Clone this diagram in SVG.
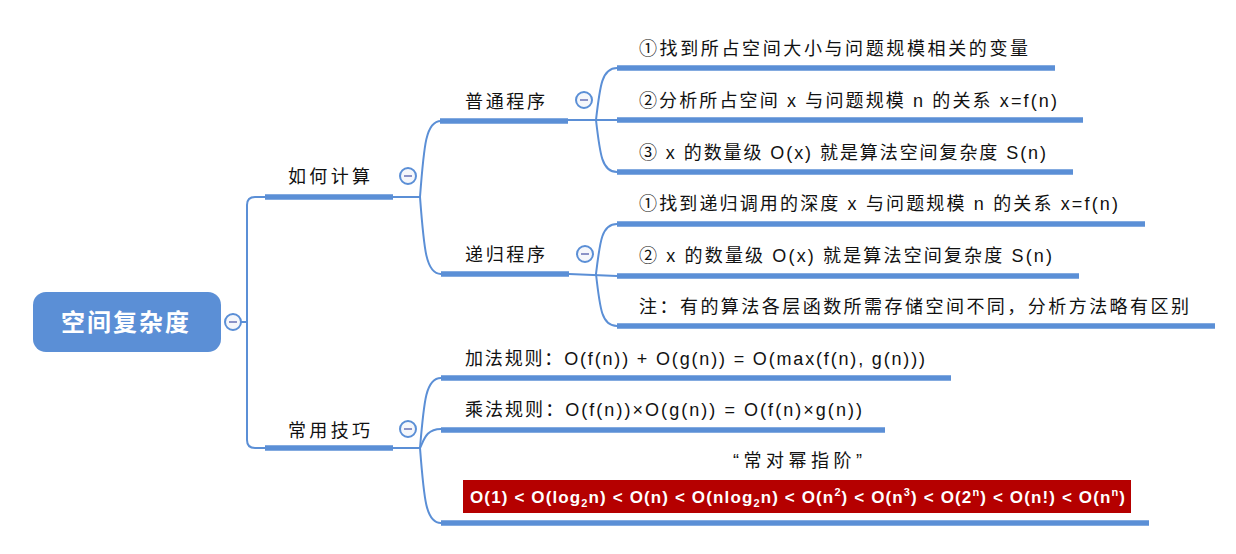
<svg xmlns="http://www.w3.org/2000/svg" width="1236" height="554" viewBox="0 0 1236 554">
<style>
.t{font-family:"Liberation Sans","Noto Sans CJK SC",sans-serif;font-size:18px;fill:#111}
.thin{fill:none;stroke:#5B8FD6;stroke-width:2}
.thick{fill:none;stroke:#5B8FD6;stroke-width:5.5}
.cb circle{fill:#F5F7FB;stroke:#5B8FD6;stroke-width:2}
.cb line{stroke:#8B93C7;stroke-width:2}
</style>
<defs>
<g id="cbtn" class="cb"><circle cx="0" cy="0" r="8"/><line x1="-4" y1="0" x2="4" y2="0"/></g>
</defs>
<rect width="1236" height="554" fill="#fff"/>
<g id="connectors">
<path class="thin" d="M241,322 L247,322"/>
<path class="thin" d="M265,197 L255,197 Q247,197 247,205 L247,440 Q247,448 255,448 L265,448"/>
<path class="thin" d="M393,197 L420,197"/>
<path class="thin" d="M420,197 C424,144 426,121 441,121"/>
<path class="thin" d="M420,197 C424,250 426,274 441,274"/>
<path class="thin" d="M393,448 L420,448"/>
<path class="thin" d="M420,448 C424,400 426,378 441,378"/>
<path class="thin" d="M420,448 C424,440 426,429 441,429"/>
<path class="thin" d="M420,448 C424,500 426,523 441,523"/>
<path class="thin" d="M568,120 L617,120"/>
<path class="thin" d="M596,120 C600,85 602,68 617,68"/>
<path class="thin" d="M596,120 C600,155 602,172 617,172"/>
<path class="thin" d="M569,274 L617,276"/>
<path class="thin" d="M596,274 C600,240 602,224 617,224"/>
<path class="thin" d="M596,274 C600,310 602,326 617,326"/>
</g>
<g id="root">
<rect x="33" y="292" width="188" height="60" rx="13" fill="#5B8FD6"/>
<text x="126" y="331" text-anchor="middle" font-family="'Noto Sans CJK SC',sans-serif" font-size="24" font-weight="bold" fill="#fff" letter-spacing="2">空间复杂度</text>
<use href="#cbtn" x="233" y="322"/>
</g>
<g id="n-ruhe">
<text class="t" x="288" y="183" textLength="82">如何计算</text>
<path class="thick" d="M265,197 L393,197"/>
<use href="#cbtn" x="408" y="176"/>
</g>
<g id="n-putong">
<text class="t" x="465" y="108" textLength="80">普通程序</text>
<path class="thick" d="M440,121 L568,121"/>
<use href="#cbtn" x="584" y="100"/>
</g>
<g id="n-p1">
<text class="t" x="639" y="55" textLength="389">①找到所占空间大小与问题规模相关的变量</text>
<path class="thick" d="M617,68 L1055,68"/>
</g>
<g id="n-p2">
<text class="t" x="639" y="107" textLength="418">②分析所占空间 x 与问题规模 n 的关系 x=f(n)</text>
<path class="thick" d="M617,120 L1083,120"/>
</g>
<g id="n-p3">
<text class="t" x="639" y="159" textLength="407">③ x 的数量级 O(x) 就是算法空间复杂度 S(n)</text>
<path class="thick" d="M617,172 L1073,172"/>
</g>
<g id="n-digui">
<text class="t" x="465" y="261" textLength="80">递归程序</text>
<path class="thick" d="M441,274 L569,274"/>
<use href="#cbtn" x="585" y="254"/>
</g>
<g id="n-d1">
<text class="t" x="639" y="210" textLength="479">①找到递归调用的深度 x 与问题规模 n 的关系 x=f(n)</text>
<path class="thick" d="M617,224 L1145,224"/>
</g>
<g id="n-d2">
<text class="t" x="639" y="262" textLength="413">②  x 的数量级 O(x) 就是算法空间复杂度 S(n)</text>
<path class="thick" d="M617,276 L1079,276"/>
</g>
<g id="n-d3">
<text class="t" x="639" y="313" textLength="550">注：有的算法各层函数所需存储空间不同，分析方法略有区别</text>
<path class="thick" d="M617,326 L1215,326"/>
</g>
<g id="n-changyong">
<text class="t" x="288" y="437" textLength="82">常用技巧</text>
<path class="thick" d="M265,448 L393,448"/>
<use href="#cbtn" x="408" y="429"/>
</g>
<g id="n-c1">
<text class="t" x="465" y="365" textLength="460">加法规则：O(f(n)) + O(g(n)) = O(max(f(n), g(n)))</text>
<path class="thick" d="M441,378 L951,378"/>
</g>
<g id="n-c2">
<text class="t" x="465" y="416" textLength="397">乘法规则：O(f(n))×O(g(n)) = O(f(n)×g(n))</text>
<path class="thick" d="M441,430 L885,430"/>
</g>
<g id="n-c3">
<text class="t" x="733" y="467" textLength="129">“常对幂指阶”</text>
<rect x="463" y="480" width="668" height="33" fill="#B50000"/>
<text x="470" y="503" textLength="655" font-family="'Liberation Sans',sans-serif" font-size="17" font-weight="bold" fill="#fff">O(1) &lt; O(log<tspan font-size="11" dy="4">2</tspan><tspan dy="-4">n) &lt; O(n) &lt; O(nlog</tspan><tspan font-size="11" dy="4">2</tspan><tspan dy="-4">n) &lt; O(n</tspan><tspan font-size="11" dy="-7">2</tspan><tspan dy="7">) &lt; O(n</tspan><tspan font-size="11" dy="-7">3</tspan><tspan dy="7">) &lt; O(2</tspan><tspan font-size="11" dy="-7">n</tspan><tspan dy="7">) &lt; O(n!) &lt; O(n</tspan><tspan font-size="11" dy="-7">n</tspan><tspan dy="7">)</tspan></text>
<path class="thick" d="M441,523 L1149,523"/>
</g>
</svg>
